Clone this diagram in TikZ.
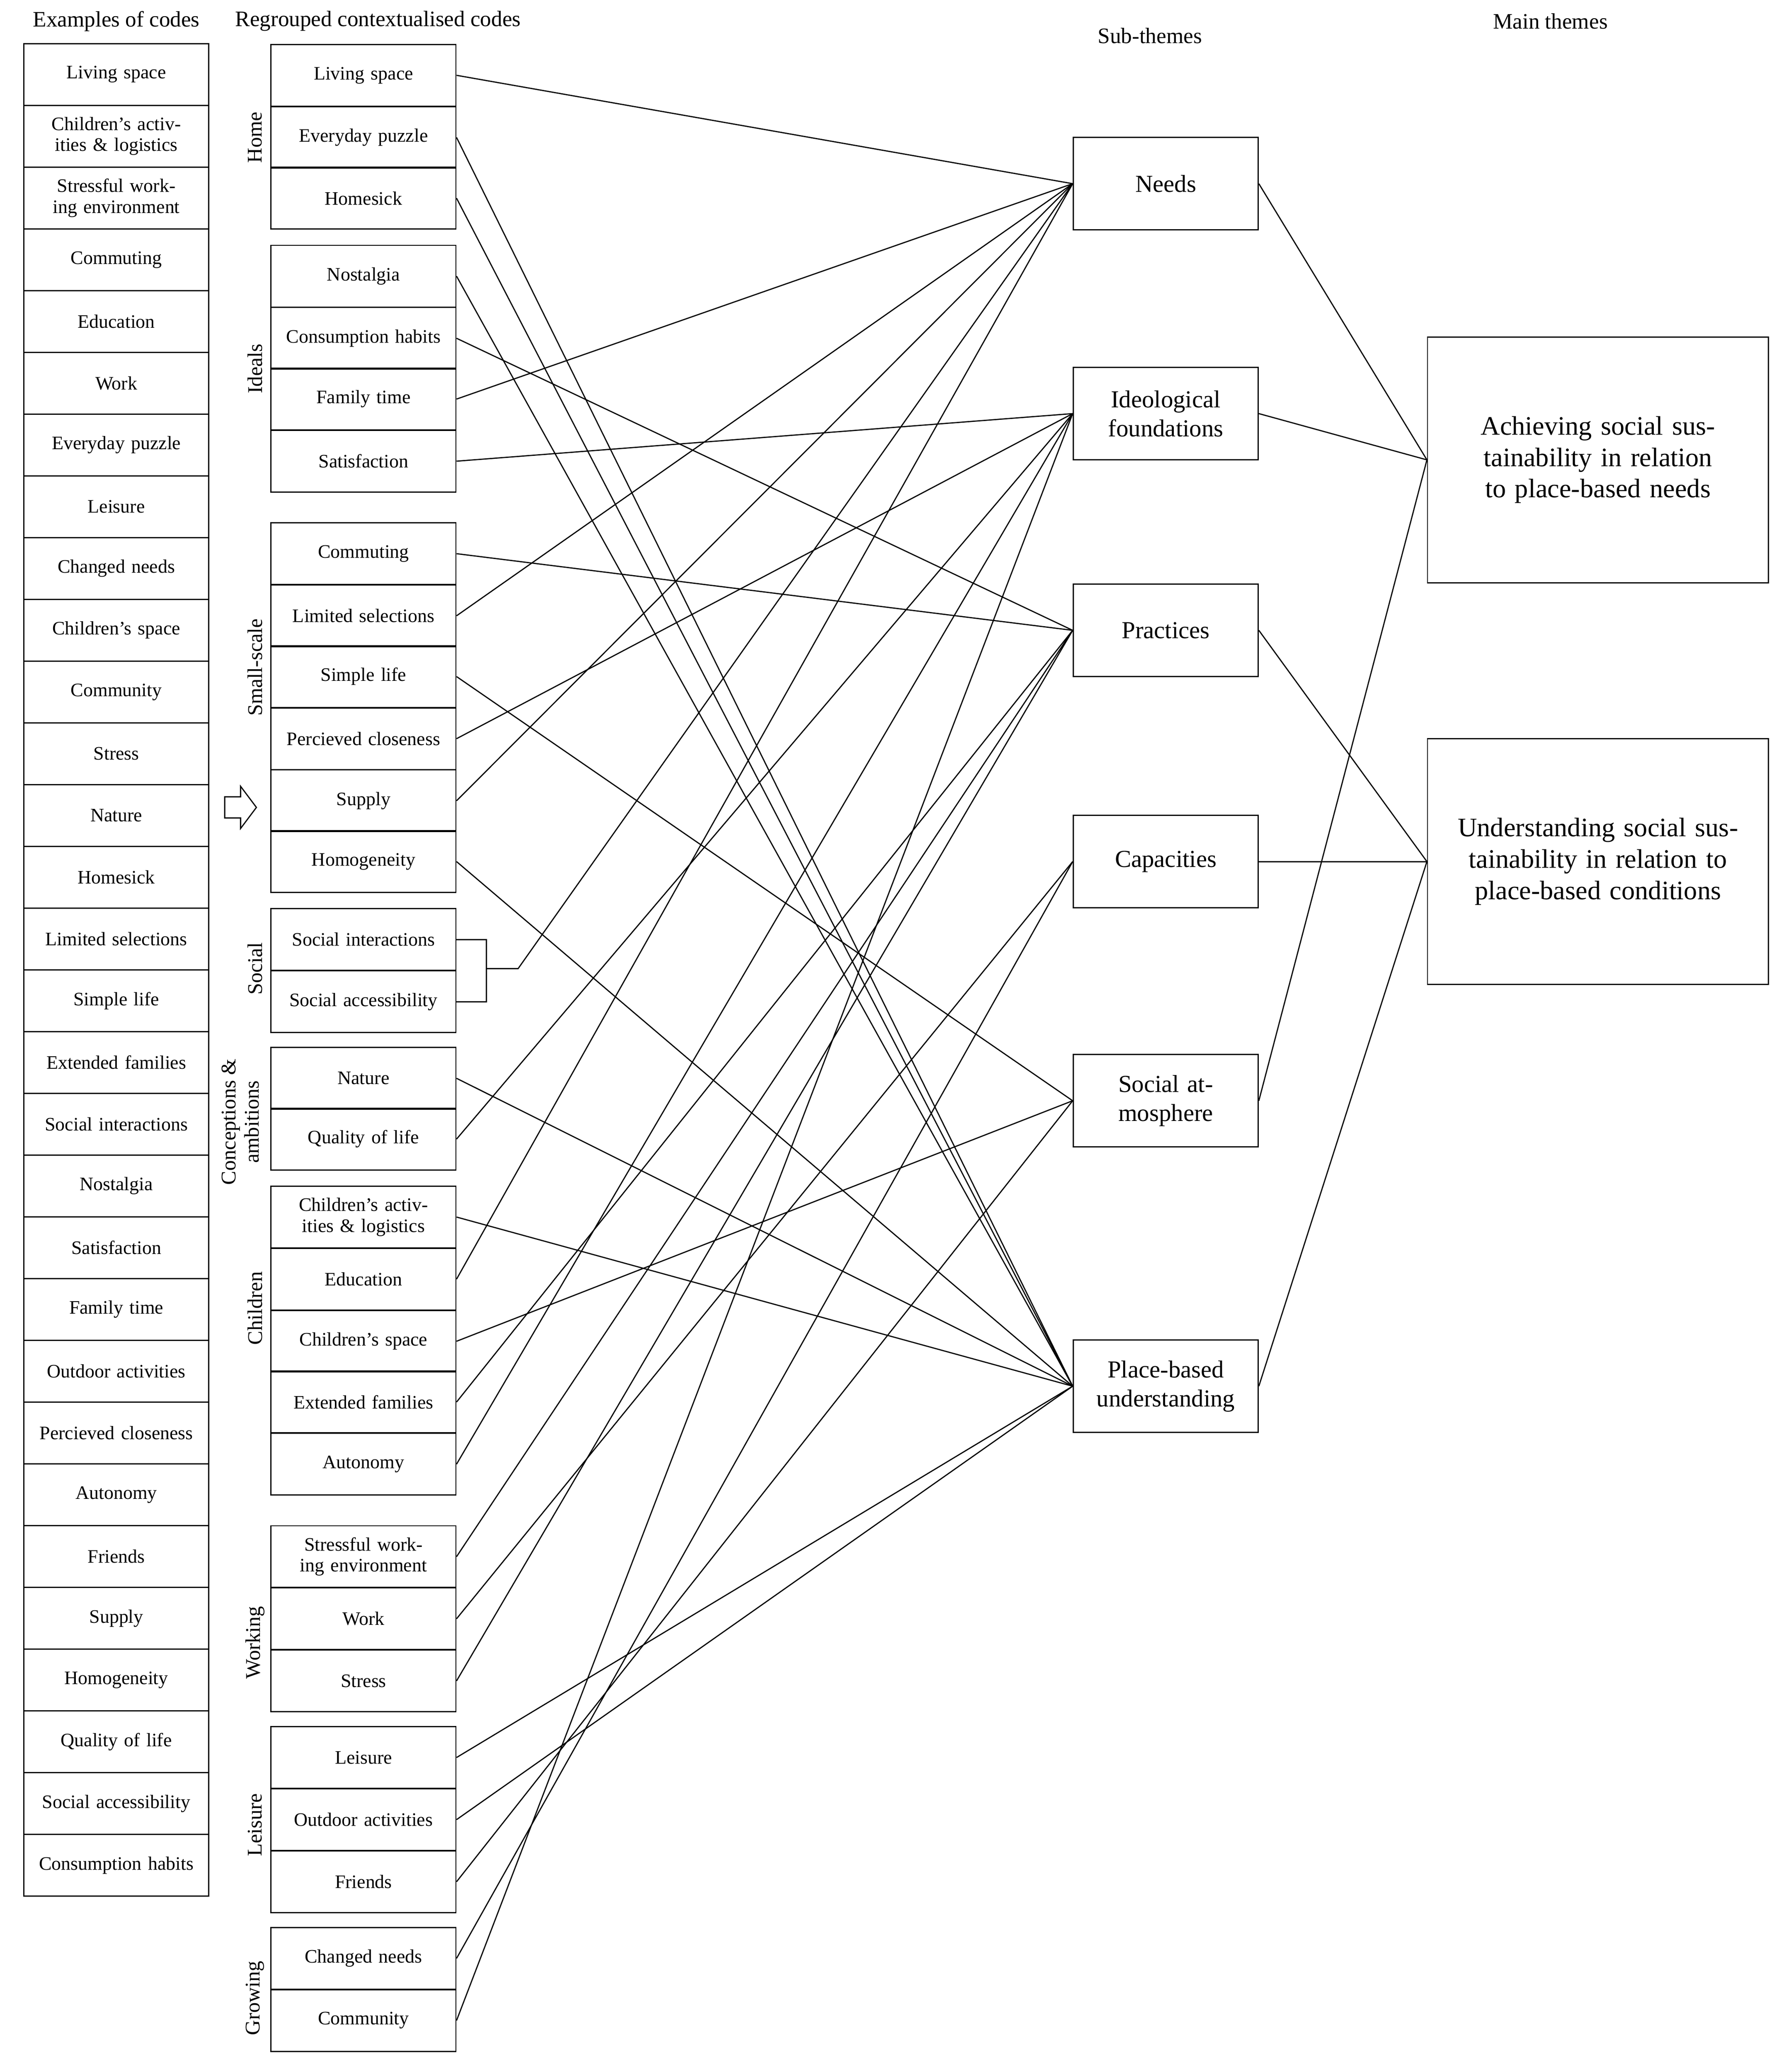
\documentclass[tikz,border=0pt]{standalone}
\usepackage{fontspec}
\setmainfont{Liberation Serif}
\begin{document}
\begin{tikzpicture}[x=0.02cm,y=-0.02cm,
  cell/.style={draw,line width=0.5pt,minimum width=2.8cm,minimum height=0.934cm,inner sep=0pt,text width=2.7cm,align=center,font=\fontsize{8.2}{9}\selectfont},
  sub/.style={draw,line width=0.5pt,minimum width=2.8cm,minimum height=1.4cm,inner sep=0pt,text width=2.7cm,align=center,font=\fontsize{10.5}{12.5}\selectfont},
  main/.style={draw,line width=0.5pt,minimum width=5.16cm,minimum height=3.72cm,inner sep=0pt,text width=5.1cm,align=center,font=\fontsize{11.5}{13.5}\selectfont},
  grp/.style={rotate=90,font=\fontsize{9}{10}\selectfont,align=center},
  hdr/.style={font=\fontsize{9.5}{11}\selectfont},
  con/.style={line width=0.5pt}]
\useasboundingbox (0,0) rectangle (1355,1568);
\node[hdr] (h1) at (88,16) {Examples of codes};
\node[hdr] (h2) at (286,16) {Regrouped contextualised codes};
\node[hdr] (h3) at (870,27) {Sub-themes};
\node[hdr] (h4) at (1173,16) {Main themes};
% left column
\foreach \t [count=\i] in {Living space,Children's activities \& logistics,Stressful working environment,Commuting,Education,Work,Everyday puzzle,Leisure,Changed needs,Children's space,Community,Stress,Nature,Homesick,Limited selections,Simple life,Extended families,Social interactions,Nostalgia,Satisfaction,Family time,Outdoor activities,Percieved closeness,Autonomy,Friends,Supply,Homogeneity,Quality of life,Social accessibility,Consumption habits}
  \node[cell] (l\i) at (88,{33+46.73*(\i-0.5)}) {\t};
% middle column
\foreach \n/\yy/\t in {liv/57/Living space,puz/104/Everyday puzzle,hsk/150/Homesick,
  nos/209/Nostalgia,con/256/Consumption habits,fam/302/Family time,sat/349/Satisfaction,
  com/419/Commuting,lim/466/Limited selections,sim/512/Simple life,per/559/Percieved closeness,sup/606/Supply,hom/652/Homogeneity,
  sint/711/Social interactions,sacc/758/Social accessibility,
  nat/816/Nature,qol/862/Quality of life,
  cha/921/Children's activities \& logistics,edu/968/Education,csp/1015/Children's space,ext/1061/Extended families,aut/1108/Autonomy,
  swe/1178/Stressful working environment,wrk/1225/Work,str/1272/Stress,
  lei/1330/Leisure,out/1377/Outdoor activities,fri/1424/Friends,
  chn/1482/Changed needs,cmy/1529/Community}
  \node[cell] (m\n) at (275,\yy) {\t};
% group labels
\node[grp] (gHome) at (193,104) {Home};
\node[grp] (gIdeals) at (193,279) {Ideals};
\node[grp] (gSmall) at (193,505) {Small-scale};
\node[grp] (gSocial) at (193,733) {Social};
\node[grp] (gConc) at (182,849) {Conceptions \&\\ambitions};
\node[grp] (gChild) at (193,990) {Children};
\node[grp] (gWork) at (193,1243) {Working};
\node[grp] (gLeis) at (193,1381) {Leisure};
\node[grp] (gGrow) at (193,1512) {Growing};
% arrow
\draw[line width=0.5pt] (170,603) -- (182,603) -- (182,595) -- (194,611) -- (182,627) -- (182,619) -- (170,619) -- cycle;
% sub-themes
\node[sub] (needs) at (882,139) {Needs};
\node[sub] (ideo) at (882,313) {Ideological\\foundations};
\node[sub] (prac) at (882,477) {Practices};
\node[sub] (capa) at (882,652) {Capacities};
\node[sub] (soc) at (882,833) {Social atmosphere};
\node[sub] (place) at (882,1049) {Place-based\\understanding};
% main themes
\node[main] (ach) at (1209,348) {Achieving social sustainability in relation to place-based needs\\[1.5cm]};
\node[main] (und) at (1209,652) {Understanding social sustainability in relation to place-based conditions};
% bracket
\coordinate (br) at (368,733);
\coordinate (brk) at (392,733);
\draw[con] (msint.east) -| (br) |- (msacc.east);
\draw[con] (br) -- (brk) -- (needs.west);
% connectors
\foreach \a/\b in {liv/needs,puz/place,hsk/place,nos/place,con/prac,fam/needs,sat/ideo,
  com/prac,lim/needs,sim/soc,per/ideo,sup/needs,hom/place,
  nat/place,qol/ideo,cha/place,edu/needs,csp/soc,ext/prac,aut/ideo,
  swe/prac,wrk/capa,str/prac,lei/place,out/place,fri/soc,chn/capa,cmy/ideo}
  \draw[con] (m\a.east) -- (\b.west);
\foreach \a/\b in {needs/ach,ideo/ach,soc/ach,prac/und,capa/und,place/und}
  \draw[con] (\a.east) -- (\b.west);
\end{tikzpicture}
\end{document}
